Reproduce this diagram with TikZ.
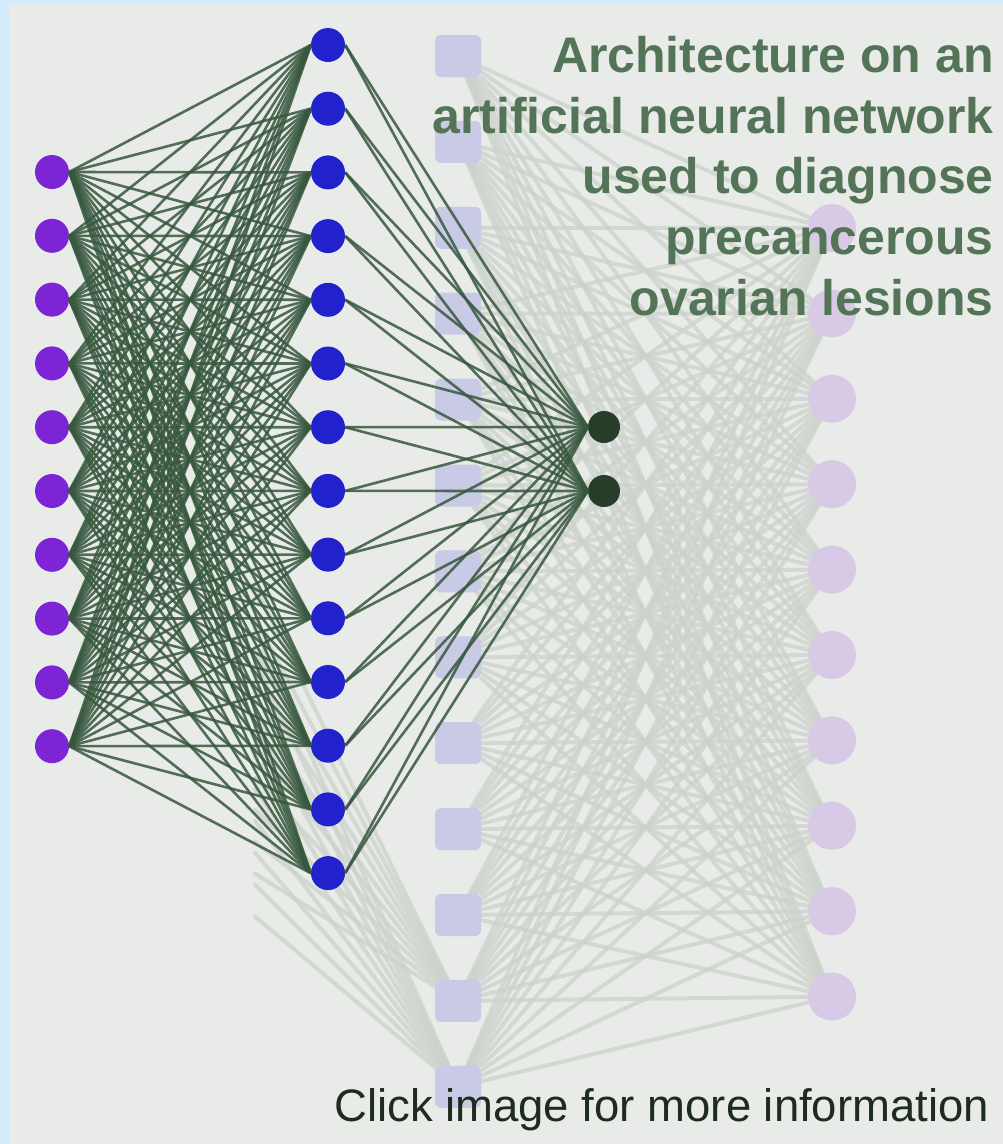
\documentclass[tikz,border=0pt]{standalone}
\usepackage{fontspec}
\setmainfont{Liberation Sans}
\usetikzlibrary{positioning,calc}
\definecolor{bgcol}{RGB}{232,235,232}
\definecolor{framecol}{RGB}{212,236,251}
\definecolor{inpcol}{RGB}{125,36,212}
\definecolor{hidcol}{RGB}{34,34,204}
\definecolor{outcol}{RGB}{40,60,42}
\definecolor{linkcol}{RGB}{56,88,62}
\definecolor{fadecol}{RGB}{204,210,204}
\definecolor{fadesq}{RGB}{200,202,230}
\definecolor{fadepk}{RGB}{216,202,230}
\definecolor{titlecol}{RGB}{84,116,88}
\definecolor{clickcol}{RGB}{30,44,32}
\pgfdeclarelayer{bottom}
\pgfdeclarelayer{back}
\pgfsetlayers{bottom,back,main}

\begin{document}
\begin{tikzpicture}[x=1pt,y=-1pt,
	neuron/.style={circle,inner sep=0pt,minimum size=34pt},
	inneuron/.style={neuron,fill=inpcol},
	hidneuron/.style={neuron,fill=hidcol},
	outneuron/.style={neuron,fill=outcol,minimum size=32pt},
	fadebox/.style={rectangle,rounded corners=6pt,inner sep=0pt,minimum width=46pt,minimum height=42pt,fill=fadesq},
	fadedot/.style={circle,inner sep=0pt,minimum size=48pt,fill=fadepk},
	link/.style={draw=linkcol,line width=2.6pt,opacity=.85},
	fadelink/.style={draw=fadecol,line width=4pt,opacity=.75,line cap=round}]
	% frame and background
	\begin{pgfonlayer}{bottom}
		\fill[framecol] (0,0) rectangle (1003,1144);
		\fill[bgcol] (10,4) rectangle (1003,1144);
	\end{pgfonlayer}
	\useasboundingbox (0,0) rectangle (1003,1144);
	% faded layers
	\foreach \i in {1,...,13}
		\node[fadebox] (f\i) at (458,{56+(\i-1)*85.9}) {};
	\foreach \j in {1,...,10}
		\node[fadedot] (p\j) at (832,{228+(\j-1)*85.4}) {};
	% network
	\foreach \i in {1,...,10}
		\node[inneuron] (in\i) at (52,{172+(\i-1)*63.8}) {};
	\foreach \k in {1,...,14}
		\node[hidneuron] (hid\k) at (328,{45+(\k-1)*63.7}) {};
	\node[outneuron] (out1) at (604,427) {};
	\node[outneuron] (out2) at (604,491) {};
	\begin{pgfonlayer}{back}
		\foreach \i in {1,...,13}
			\foreach \j in {1,...,10}
				\draw[fadelink] (f\i) -- (p\j);
		\foreach \i in {1,...,10}
			\foreach \j in {12,13}
				\draw[fadelink] ($(in\i)!.5!(f\j)$) -- (f\j);
	\end{pgfonlayer}
	\foreach \i in {1,...,10}
		\foreach \k in {1,...,14}
			\draw[link] (in\i.east) -- (hid\k.west);
	\foreach \k in {1,...,14}
	{
		\draw[link] (hid\k.east) -- (out1.west);
		\draw[link] (hid\k.east) -- (out2.west);
	}
	% texts
	\node[anchor=north east,inner sep=0pt,align=right,text=titlecol,
		font=\bfseries\fontsize{50}{60.7}\selectfont] (title) at (994,36)
		{Architecture on an\\artificial neural network\\used to diagnose\\precancerous\\ovarian lesions};
	\node[anchor=base west,inner sep=0pt,text=clickcol,
		font=\fontsize{45.5}{56}\selectfont] (click) at (334,1121) {Click image for more information};
\end{tikzpicture}
\end{document}
